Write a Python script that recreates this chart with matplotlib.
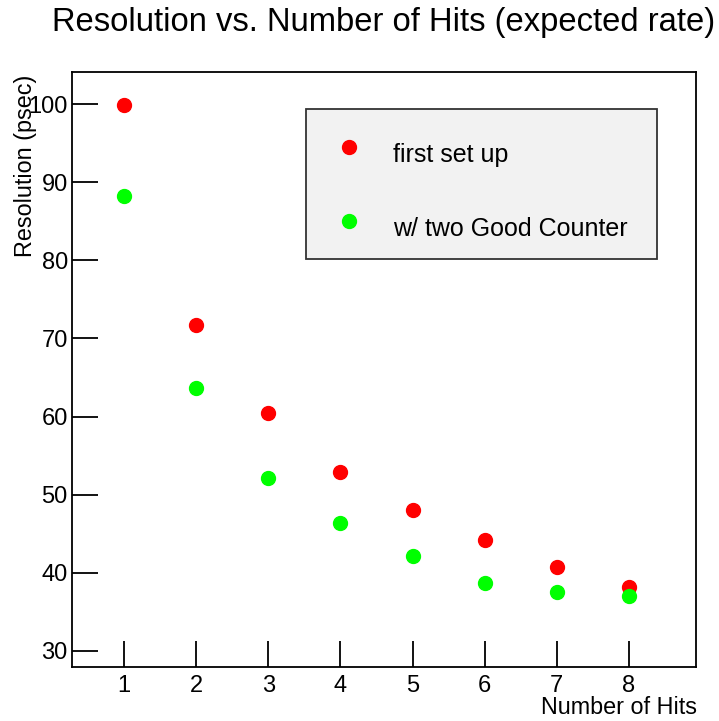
import matplotlib
matplotlib.use("Agg")
import matplotlib.pyplot as plt
from matplotlib.patches import Rectangle
from matplotlib.lines import Line2D

plt.rcParams["font.family"] = ["Liberation Sans", "DejaVu Sans"]

# data
n_hits = [1, 2, 3, 4, 5, 6, 7, 8]
res_first = [99.9, 71.7, 60.4, 52.9, 48.1, 44.2, 40.8, 38.2]
res_good = [88.2, 63.6, 52.2, 46.4, 42.2, 38.7, 37.6, 37.0]
labels = ["first set up", "w/ two Good Counter"]
colors = ["#ff0000", "#00ff00"]
y_ticks = [30, 40, 50, 60, 70, 80, 90, 100]

fig = plt.figure(figsize=(7.19, 7.21), dpi=100)
ax = fig.add_axes([0.1001, 0.0749, 0.868, 0.8252])

for ys, c in zip([res_first, res_good], colors):
    ax.plot(n_hits, ys, linestyle="none", marker="o", markersize=10,
            color=c, markeredgecolor=c)

ax.set_xlim(0.28, 8.93)
ax.set_ylim(27.95, 104.1)
ax.set_xticks(n_hits)
ax.set_yticks(y_ticks)
ax.tick_params(direction="in", length=19, width=1.3, labelsize=17)
ax.tick_params(axis="x", pad=6)
ax.tick_params(axis="y", pad=3)
for s in ax.spines.values():
    s.set_linewidth(1.3)

fig.text(0.533, 0.969, "Resolution vs. Number of Hits (expected rate)",
         ha="center", va="center", fontsize=23.6)
fig.text(0.969, 0.019, "Number of Hits", ha="right", va="center", fontsize=16.8)
fig.text(0.035, 0.897, "Resolution (psec)", ha="center", va="top",
         rotation=90, fontsize=16.8)

# legend box drawn in figure coordinates
fig.patches.append(Rectangle((306 / 719, 1 - 259 / 721), 351 / 719, 150 / 721,
                             transform=fig.transFigure, facecolor="#f2f2f2",
                             edgecolor="#333333", linewidth=1.3))
for i, (lab, c) in enumerate(zip(labels, colors)):
    ym = 1 - (147 + 74 * i) / 721
    fig.lines.append(Line2D([349 / 719], [ym], transform=fig.transFigure,
                            marker="o", markersize=10, color=c, linestyle="none"))
    fig.text(393 / 719, 1 - (155 + 74 * i) / 721, lab, ha="left", va="center",
             fontsize=18)

fig.savefig("out.png", dpi=100)
